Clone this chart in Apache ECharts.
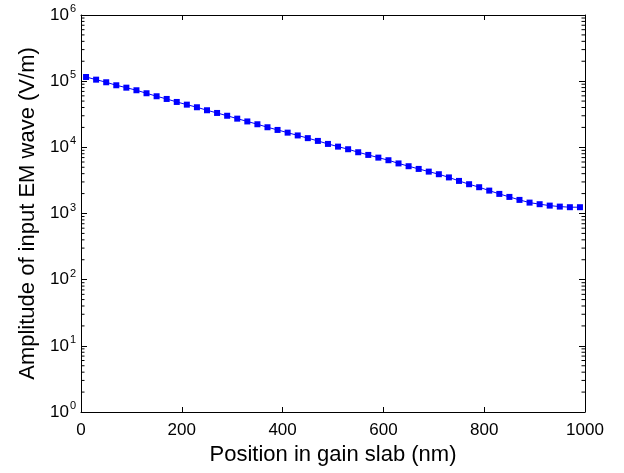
<!DOCTYPE html>
<html>
<head>
<meta charset="utf-8">
<script src="https://cdn.jsdelivr.net/npm/echarts@6/dist/echarts.min.js"></script>
<style>html,body{margin:0;padding:0;background:#fff;}#c{width:624px;height:473px;}</style>
</head>
<body>
<div id="c"></div>
<script>
const positions = [10,30,50,70,90,110,130,150,170,190,210,230,250,270,290,310,330,350,370,390,410,430,450,470,490,510,530,550,570,590,610,630,650,670,690,710,730,750,770,790,810,830,850,870,890,910,930,950,970,990];
const amplitudes = [115700,105400,96250,86700,79760,72880,65670,59150,53850,48510,44160,40340,36340,33080,30010,27130,24620,22330,20120,18320,16670,15130,13770,12500,11260,10250,9360,8430,7680,6990,6385,5713,5183,4718,4295,3924,3510,3108,2771,2496,2218,1978,1781,1605,1461,1382,1316,1271,1245,1245];
const xTicks = [0,200,400,600,800,1000];
const yDecades = [1,10,100,1000,10000,100000,1000000];
const minorMultipliers = [2,3,4,5,6,7,8,9];

const minorVals = [];
for (let i = 0; i < yDecades.length - 1; i++) {
  for (const m of minorMultipliers) minorVals.push([0, m * yDecades[i]]);
}

const FONT = 'Liberation Sans, Arial, Helvetica, sans-serif';
const chart = echarts.init(document.getElementById('c'), null, {renderer: 'canvas'});

const axisLineStyle = {color: '#000', width: 1};
chart.setOption({
  animation: false,
  backgroundColor: '#fff',
  grid: {left: 81, right: 39, top: 15, bottom: 61, containLabel: false},
  xAxis: [{
    type: 'value', min: xTicks[0], max: xTicks[xTicks.length - 1], interval: xTicks[1] - xTicks[0], position: 'bottom',
    name: 'Position in gain slab (nm)', nameLocation: 'middle', nameGap: 30,
    nameTextStyle: {fontFamily: FONT, fontSize: 22, color: '#000'},
    axisLine: {show: true, onZero: false, lineStyle: axisLineStyle},
    axisTick: {show: true, inside: true, length: 5, lineStyle: axisLineStyle},
    axisLabel: {fontFamily: FONT, fontSize: 17, color: '#000', margin: 10, formatter: function (v) { return String(v); }},
    splitLine: {show: false}
  }, {
    type: 'value', min: xTicks[0], max: xTicks[xTicks.length - 1], interval: xTicks[1] - xTicks[0], position: 'top',
    axisLine: {show: true, onZero: false, lineStyle: axisLineStyle},
    axisTick: {show: true, inside: true, length: 5, lineStyle: axisLineStyle},
    axisLabel: {show: false}, splitLine: {show: false}
  }],
  yAxis: [{
    type: 'log', logBase: 10, min: yDecades[0], max: yDecades[yDecades.length - 1], position: 'left',
    splitNumber: 6,
    name: 'Amplitude of input EM wave (V/m)', nameLocation: 'middle', nameGap: 40, nameRotate: 90,
    nameTextStyle: {fontFamily: FONT, fontSize: 22, color: '#000'},
    axisLine: {show: true, onZero: false, lineStyle: axisLineStyle},
    axisTick: {show: true, inside: true, length: 6, lineStyle: axisLineStyle},
    axisLabel: {
      margin: 5, color: '#000',
      formatter: function (v) { return '{b|10}{s|' + Math.round(Math.log10(v)) + '}'; },
      rich: {
        b: {fontFamily: FONT, fontSize: 17, color: '#000', verticalAlign: 'bottom', lineHeight: 17, padding: [6, 0, 0, 0]},
        s: {fontFamily: FONT, fontSize: 11, color: '#000', verticalAlign: 'bottom', lineHeight: 11, padding: [0, 0, 9, 1]}
      }
    },
    splitLine: {show: false}
  }, {
    type: 'log', logBase: 10, min: yDecades[0], max: yDecades[yDecades.length - 1], position: 'right',
    splitNumber: 6,
    axisLine: {show: true, onZero: false, lineStyle: axisLineStyle},
    axisTick: {show: true, inside: true, length: 6, lineStyle: axisLineStyle},
    axisLabel: {show: false}, splitLine: {show: false}
  }],
  series: [{
    type: 'custom', silent: true, xAxisIndex: 0, yAxisIndex: 0, clip: false,
    data: minorVals,
    renderItem: function (params, api) {
      const pt = api.coord([0, api.value(1)]);
      const cs = params.coordSys;
      const len = 3.5;
      return {type: 'group', children: [
        {type: 'line', shape: {x1: cs.x, y1: pt[1], x2: cs.x + len, y2: pt[1]}, style: {stroke: '#000', lineWidth: 1}},
        {type: 'line', shape: {x1: cs.x + cs.width - len, y1: pt[1], x2: cs.x + cs.width, y2: pt[1]}, style: {stroke: '#000', lineWidth: 1}}
      ]};
    },
    z: 1
  }, {
    type: 'line', xAxisIndex: 0, yAxisIndex: 0,
    data: positions.map((p, i) => [p, amplitudes[i]]),
    symbol: 'rect', symbolSize: 6, showSymbol: true,
    lineStyle: {color: '#0000ff', width: 1},
    itemStyle: {color: '#0000ff'},
    z: 3
  }]
});
</script>
</body>
</html>
